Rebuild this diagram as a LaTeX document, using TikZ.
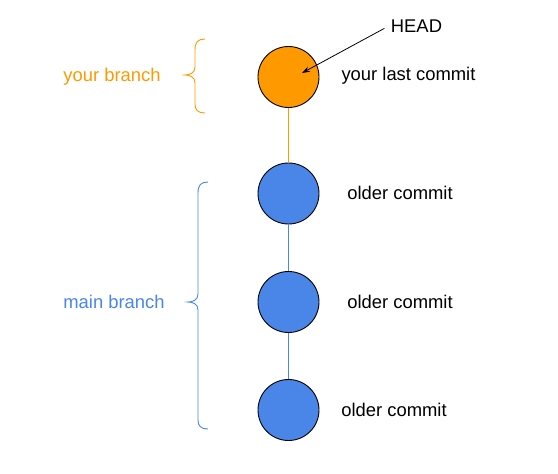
\documentclass[tikz,border=0pt]{standalone}
\usepackage{fontspec}
\setmainfont{Liberation Sans}
\usetikzlibrary{arrows.meta}
\definecolor{gorange}{HTML}{FF9900}
\definecolor{gblue}{HTML}{4A86E8}
\begin{document}
\begin{tikzpicture}[x=1pt,y=-1pt,
  commit/.style={circle,draw=black,line width=0.9pt,minimum size=61pt,inner sep=0pt},
  lbl/.style={font=\fontsize{18.4}{22}\selectfont,inner sep=2pt},
  bracepath/.style={line width=0.9pt}]
\useasboundingbox (0,0) rectangle (558,474);
\node[commit,fill=gorange] (c0) at (288.5,77) {};
\node[commit,fill=gblue] (c1) at (288.5,193.5) {};
\node[commit,fill=gblue] (c2) at (288.5,302) {};
\node[commit,fill=gblue] (c3) at (288.5,410) {};
\draw[gorange,line width=0.9pt] (c0) -- (c1);
\draw[gblue,line width=0.9pt] (c1) -- (c2);
\draw[gblue,line width=0.9pt] (c2) -- (c3);
\node[lbl] (l0) at (408.5,76) {your last commit};
\node[lbl] (l1) at (400,193) {older commit};
\node[lbl] (l2) at (400,302) {older commit};
\node[lbl] (l3) at (394,410) {older commit};
\node[lbl] (head) at (416.5,26) {HEAD};
\coordinate (headtip) at (302,73);
\draw[line width=0.8pt,-{Stealth[length=8pt,width=5.5pt]},shorten <=5pt] (head.west) -- (headtip);
\node[lbl,text=gorange] (yb) at (112,77) {your branch};
\node[lbl,text=gblue] (mb) at (114,302) {main branch};
% orange brace
\draw[gorange,bracepath] (205,39) .. controls (198,39) and (195,42) .. (195,50) -- (195,67) .. controls (195,73) and (190,75) .. (185,75) .. controls (190,75) and (195,77) .. (195,83) -- (195,104) .. controls (195,110) and (198,113) .. (205,113);
% blue brace
\draw[gblue,bracepath] (208,182) .. controls (201,182) and (198,185) .. (198,193) -- (198,294) .. controls (198,300) and (193,302) .. (188,302) .. controls (193,302) and (198,304) .. (198,310) -- (198,420) .. controls (198,426) and (201,429) .. (208,429);
\end{tikzpicture}
\end{document}
